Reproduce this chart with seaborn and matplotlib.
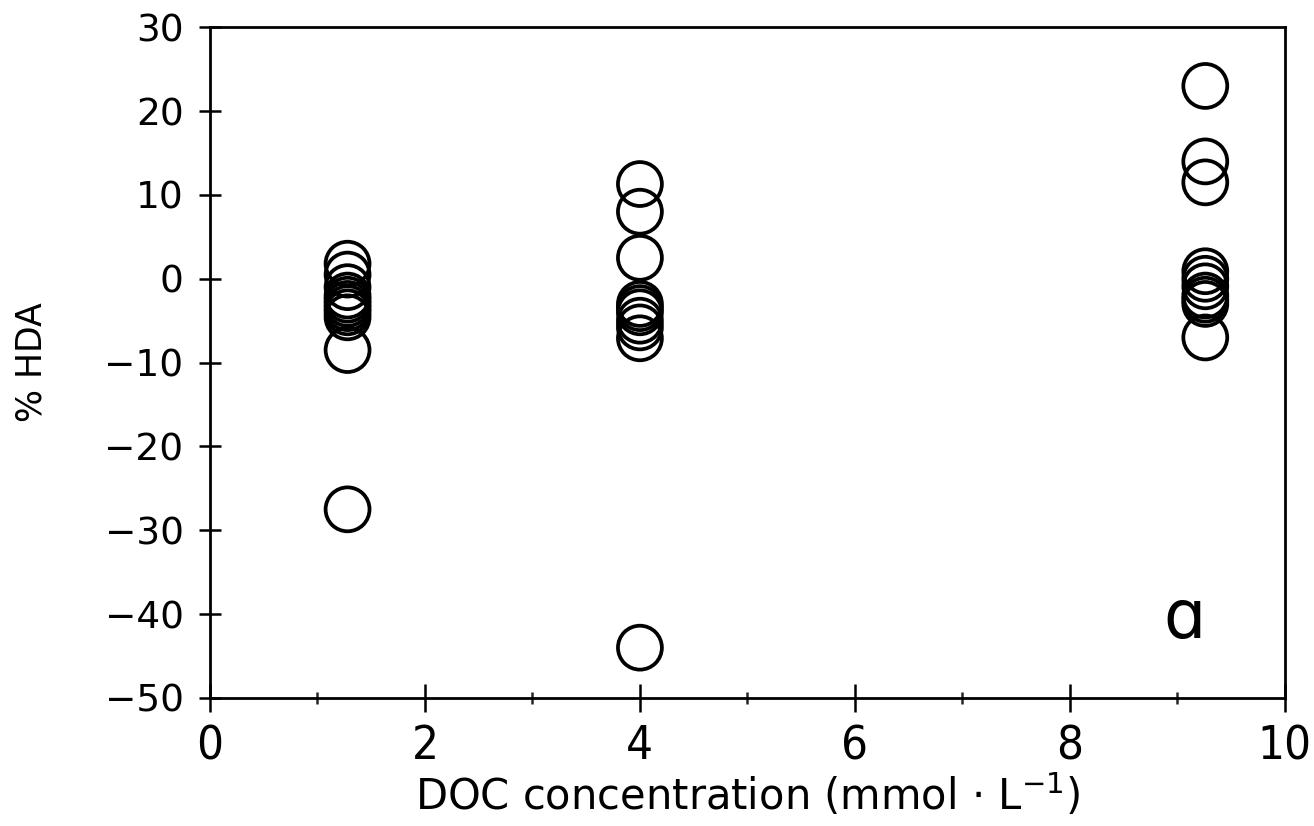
import matplotlib
matplotlib.use("Agg")
import matplotlib.pyplot as plt
import seaborn as sns
import pandas as pd
from matplotlib.ticker import MultipleLocator

# Data
doc_x1 = [1.28] * 11
hda_1 = [1.8, 0.5, -1.0, -2.0, -2.5, -3.0, -3.5, -4.0, -4.6, -8.5, -27.5]
doc_x2 = [4.0] * 10
hda_2 = [11.3, 8.0, 2.5, -3.0, -3.5, -4.0, -5.0, -5.8, -7.1, -44.0]
doc_x3 = [9.26] * 10
hda_3 = [23.0, 14.0, 11.5, 0.9, 0.0, -0.9, -2.0, -2.5, -3.0, -7.0]

df = pd.DataFrame({
    "doc": doc_x1 + doc_x2 + doc_x3,
    "hda": hda_1 + hda_2 + hda_3,
})

sns.set_theme(style="white")
plt.rcParams["font.family"] = ["DejaVu Sans"]

fig = plt.figure(figsize=(13.14, 8.26), dpi=100)
ax = fig.add_axes([0.1598, 0.155, 0.818, 0.812])

sns.scatterplot(data=df, x="doc", y="hda", ax=ax, marker="o", s=1000,
                facecolor="none", edgecolor="black", linewidth=2.7, legend=False)

ax.set_xlim(0, 10)
ax.set_ylim(-50, 30)
ax.xaxis.set_major_locator(MultipleLocator(2))
ax.xaxis.set_minor_locator(MultipleLocator(1))
ax.yaxis.set_major_locator(MultipleLocator(10))

for s in ax.spines.values():
    s.set_color("black")
    s.set_linewidth(2.0)

ax.tick_params(axis="x", which="major", direction="inout", length=20, width=1.8,
               bottom=True, top=False, pad=9, labelsize=34, colors="black")
ax.tick_params(axis="x", which="minor", direction="inout", length=9, width=1.8,
               bottom=True, top=False)
ax.tick_params(axis="y", which="major", direction="inout", length=16, width=1.8,
               left=True, right=False, pad=11, labelsize=27, colors="black")

for lab in ax.get_xticklabels():
    lab.set_fontstretch("condensed")

ax.set_xlabel(r"DOC concentration (mmol $\cdot$ L$^{-1}$)", fontsize=30,
              labelpad=2, color="black")
ax.set_ylabel("% HDA", fontsize=25, labelpad=40, color="black")

ax.text(9.07, -40.6, "\u0251", fontsize=48, ha="center", va="center", color="black")

fig.savefig("out.png", dpi=100)
